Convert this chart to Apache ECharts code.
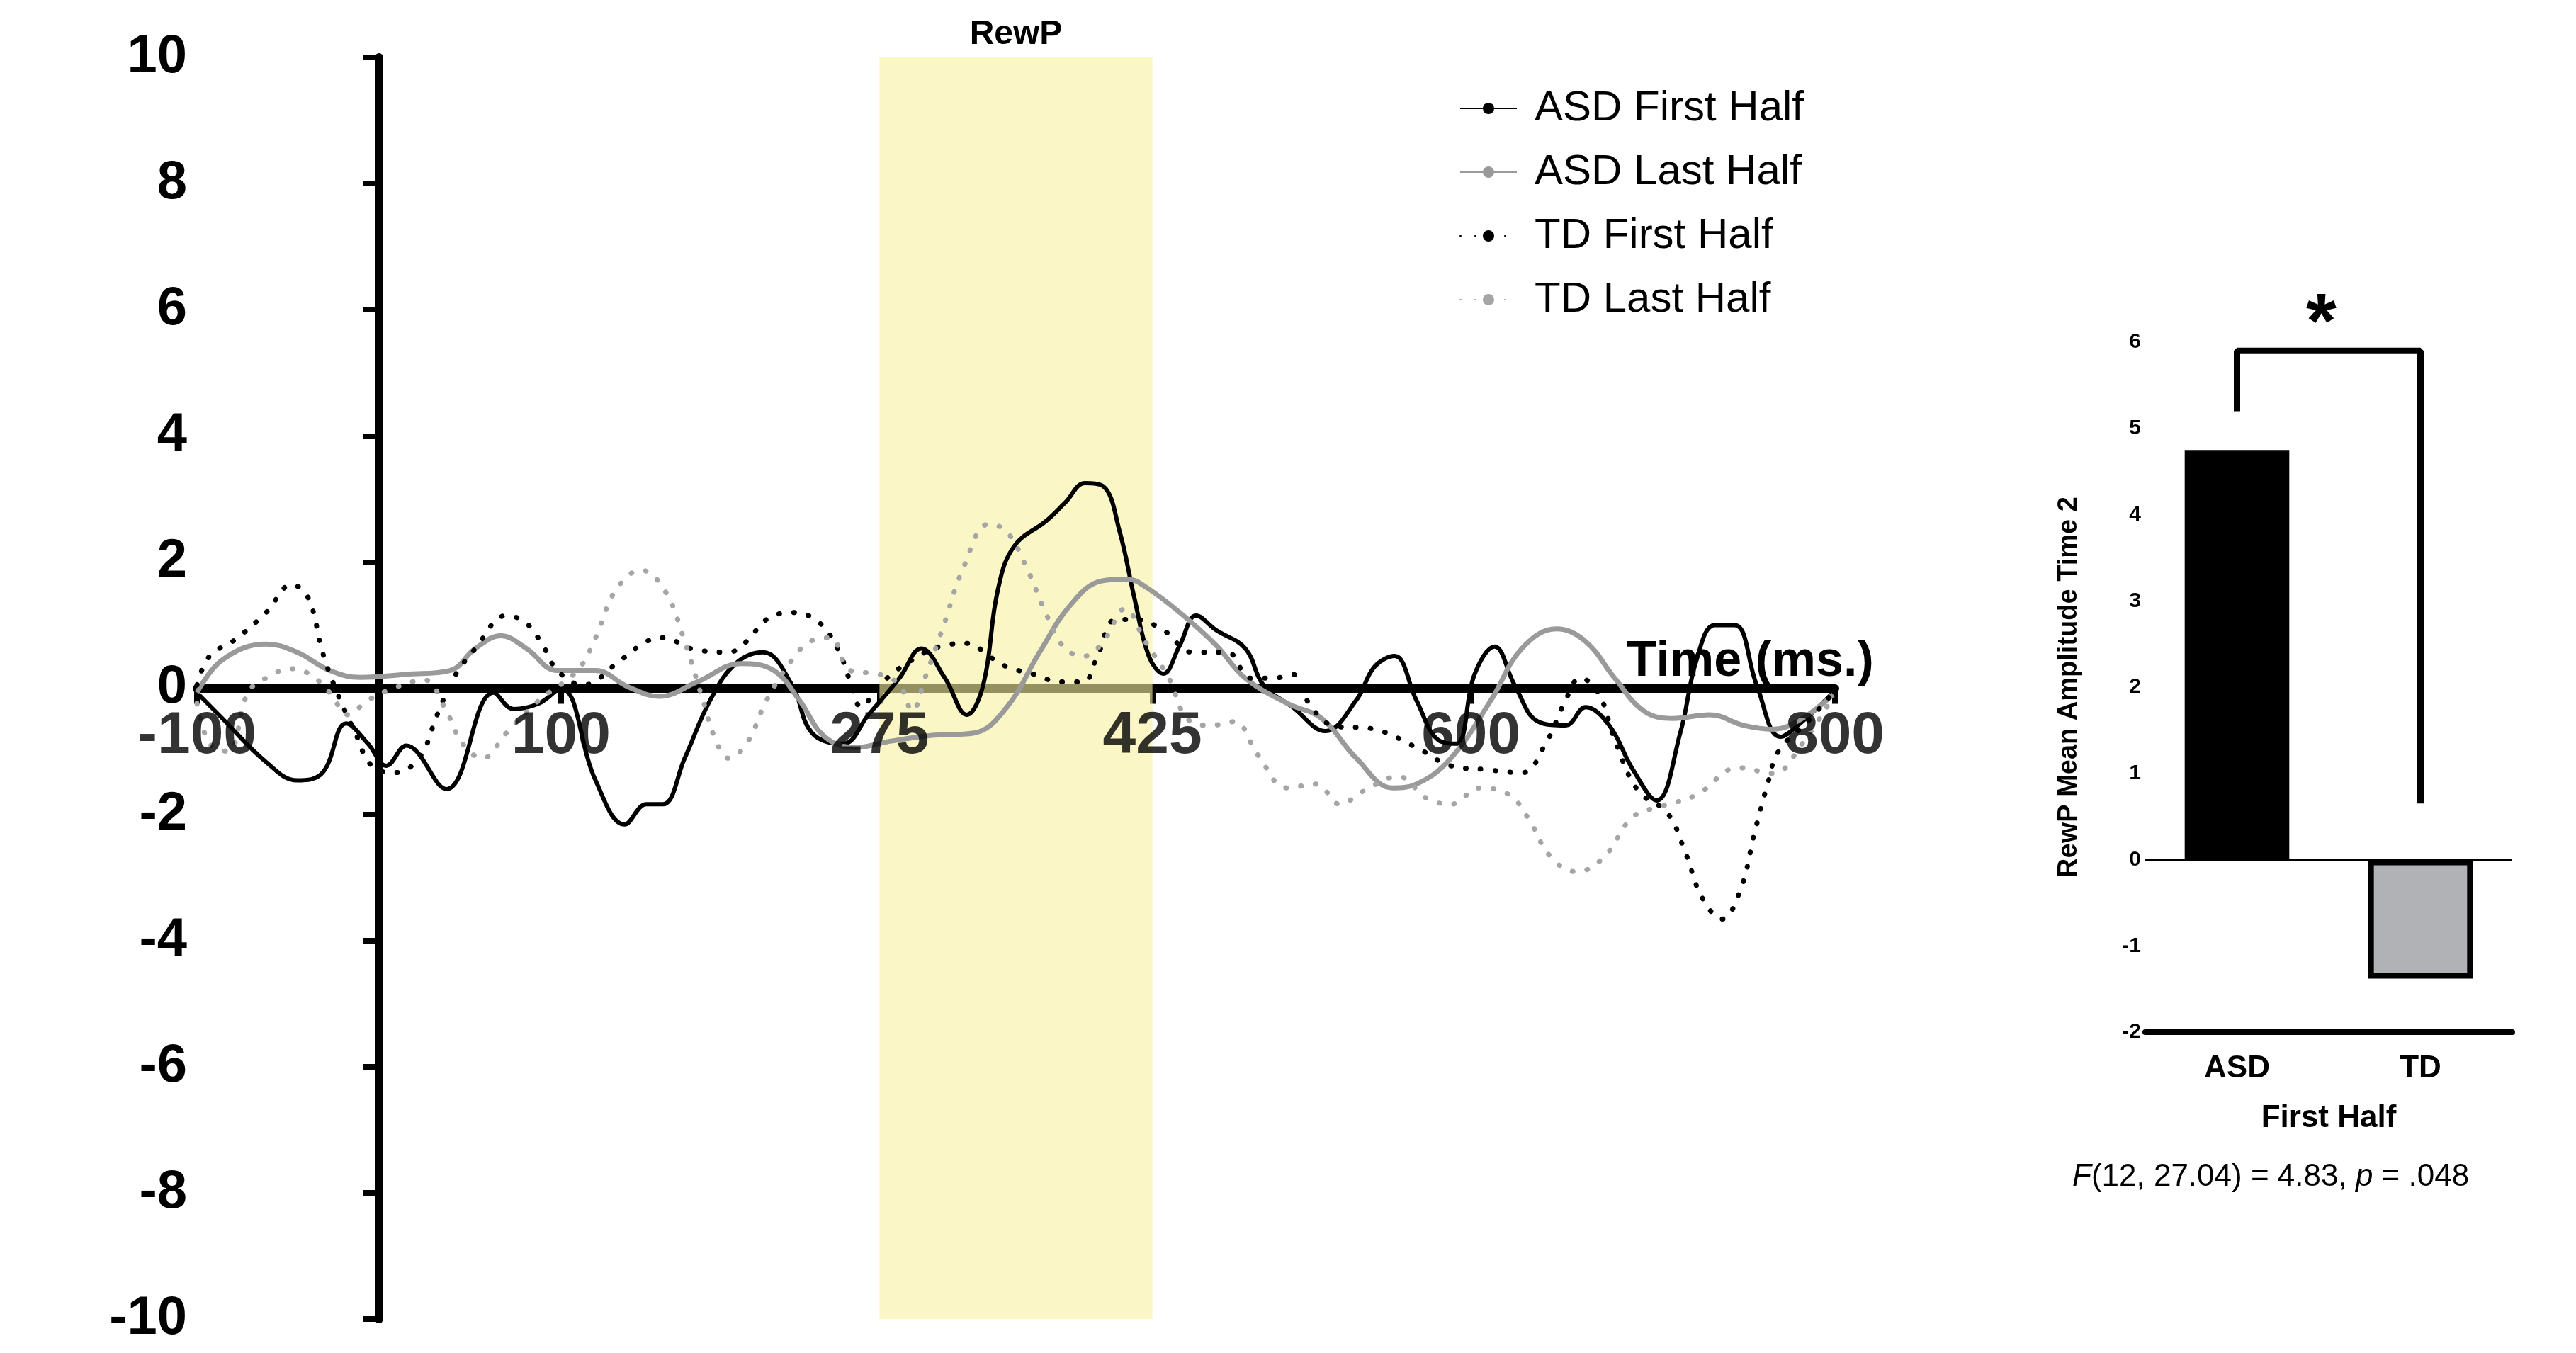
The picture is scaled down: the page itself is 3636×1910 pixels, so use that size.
<!DOCTYPE html>
<html>
<head>
<meta charset="utf-8">
<script src="https://cdn.jsdelivr.net/npm/echarts@6/dist/echarts.min.js"></script>
<style>html,body{margin:0;padding:0;background:#fff}#main{width:3636px;height:1910px}</style>
</head>
<body>
<div id="main"></div>
<script>
// 波形数据 (ms, uV)
var asdFirstT = [-100,-86,-62,-45,-31,-18,-6,4,15,37,63,74,88,100,119,135,147,156,168,182,196,211,227,238,255,269,286,298,311,323,332,340,349,367,377,388,398,407,415,423,431,440,449,460,476,486,502,520,537,547,558,570,582,592,602,613,624,637,652,663,676,689,702,715,724,734,745,757,770,782,799];
var asdFirstV = [-0.07,-0.48,-1.17,-1.46,-1.34,-0.56,-0.88,-1.23,-0.91,-1.6,-0.07,-0.33,-0.24,0,-1.46,-2.16,-1.84,-1.84,-1.11,-0.19,0.39,0.57,0.05,-0.71,-0.88,-0.42,0.16,0.63,0.16,-0.42,0.05,1.55,2.25,2.66,2.94,3.25,3.2,2.48,1.44,0.51,0.23,0.68,1.15,0.92,0.63,0.05,-0.3,-0.68,-0.19,0.34,0.51,-0.19,-0.82,-0.88,0.22,0.66,0.05,-0.53,-0.59,-0.3,-0.59,-1.29,-1.78,-0.71,0.45,1.0,1.0,0.05,-0.77,-0.53,-0.07];
var asdLastT = [-100,-86,-62,-45,-27,-10,15,39,53,67,81,98,119,137,154,175,199,217,231,245,262,279,303,327,345,363,380,397,411,421,440,460,476,499,518,537,557,570,589,611,628,647,663,679,695,711,731,750,766,782,799];
var asdLastV = [-0.07,0.45,0.7,0.57,0.28,0.17,0.22,0.28,0.63,0.83,0.63,0.28,0.28,0.02,-0.13,0.1,0.39,0.28,-0.19,-0.77,-0.94,-0.85,-0.75,-0.71,-0.3,0.57,1.32,1.7,1.73,1.61,1.2,0.68,0.16,-0.24,-0.48,-1.11,-1.58,-1.52,-1.11,-0.19,0.63,0.94,0.74,0.16,-0.36,-0.48,-0.42,-0.59,-0.65,-0.48,-0.1];
var tdFirstT = [-100,-93,-79,-62,-48,-39,-31,-24,-13,-4,8,22,32,41,53,70,81,91,98,112,133,147,157,171,192,202,213,227,241,252,259,265,275,293,311,324,335,345,360,374,387,394,405,415,431,447,466,479,492,502,511,524,547,570,589,608,628,641,652,660,670,679,692,708,718,727,738,748,756,763,769,785,799];
var tdFirstV = [0.05,0.51,0.77,1.2,1.64,1.44,0.57,0,-0.71,-1.23,-1.34,-1.11,-0.42,0.16,0.63,1.15,1.03,0.63,0.28,0.05,0.45,0.74,0.8,0.63,0.57,0.74,1.09,1.2,1.06,0.63,0.1,-0.3,0.05,0.45,0.68,0.71,0.51,0.34,0.22,0.1,0.1,0.45,1.09,1.09,0.92,0.57,0.57,0.16,0.16,0.22,-0.24,-0.59,-0.65,-0.94,-1.23,-1.29,-1.34,-0.88,-0.19,0.16,-0.07,-0.82,-1.63,-1.98,-2.62,-3.32,-3.66,-3.2,-2.27,-1.52,-1.0,-0.53,-0.07];
var tdLastT = [-100,-93,-83,-72,-62,-48,-38,-27,-17,-6,8,25,36,46,57,70,88,109,119,130,144,157,168,178,185,192,202,213,227,237,248,259,275,286,293,300,310,321,335,345,356,367,377,388,398,410,421,434,444,457,470,483,499,515,528,541,560,576,589,605,621,631,644,658,673,689,705,724,747,766,782,799];
var tdLastV = [-0.24,-0.88,-1.0,-0.07,0.16,0.31,0.22,-0.07,-0.42,-0.19,0,0.13,-0.3,-0.88,-1.11,-0.71,-0.19,0.28,0.8,1.55,1.87,1.55,0.74,-0.19,-0.82,-1.11,-0.88,-0.19,0.45,0.74,0.8,0.28,0.22,0.05,-0.36,0.16,0.97,1.9,2.6,2.48,1.9,1.15,0.63,0.51,0.74,1.26,0.74,0.16,-0.48,-0.59,-0.53,-1.06,-1.58,-1.52,-1.84,-1.63,-1.4,-1.75,-1.84,-1.58,-1.69,-2.04,-2.68,-2.91,-2.68,-2.04,-1.87,-1.69,-1.26,-1.35,-0.88,-0.13];

var seriesNames = ['ASD First Half','ASD Last Half','TD First Half','TD Last Half'];
var xTicks = [-100,100,275,425,600,800];
var rewpWindow = [275,425];

// 柱状图数据
var barCats = ['ASD','TD'];
var barVals = [4.75,-1.38];
var bracketPts = [['ASD',5.2],['ASD',5.9],['TD',5.9],['TD',0.65]];

function pairs(t,v){ return t.map(function(x,i){ return [x,v[i]]; }); }

var font = 'Liberation Sans, sans-serif';
var myChart = echarts.init(document.getElementById('main'));

var option = {
    animation:false,
    textStyle:{fontFamily:font},
    grid:[
        {left:278,right:1046,top:81,bottom:48,outerBoundsMode:'none',containLabel:false},
        {left:3028,right:90,top:483,bottom:453,outerBoundsMode:'none',containLabel:false}
    ],
    legend:{
        data:seriesNames, orient:'vertical', left:2055, top:118,
        itemWidth:80, itemHeight:20, itemGap:30,
        textStyle:{fontSize:60,color:'#000',fontFamily:font,padding:[0,0,0,20]}
    },
    xAxis:[{
        type:'value', gridIndex:0, min:-100, max:800,
        splitLine:{show:false},
        axisLine:{lineStyle:{color:'#000',width:12}},
        axisTick:{customValues:xTicks,length:22,lineStyle:{color:'#000',width:8}},
        axisLabel:{show:false}
    },{
        type:'category', gridIndex:1, data:barCats,
        axisLine:{onZero:false,lineStyle:{color:'#000',width:8}},
        axisTick:{alignWithLabel:true,length:22,lineStyle:{color:'#000',width:8}},
        axisLabel:{fontSize:44,fontWeight:'bold',color:'#000',margin:30,fontFamily:font},
        name:'First Half', nameLocation:'middle', nameGap:100,
        nameTextStyle:{fontSize:44,fontWeight:'bold',color:'#000',fontFamily:font}
    }],
    yAxis:[{
        type:'value', gridIndex:0, min:-10, max:10, interval:2,
        splitLine:{show:false},
        axisLine:{lineStyle:{color:'#000',width:12}},
        axisTick:{length:22,lineStyle:{color:'#000',width:8}},
        axisLabel:{fontSize:76,fontWeight:'bold',color:'#000',margin:14},
        name:'Voltage (uV)', nameLocation:'middle', nameGap:482,
        nameTextStyle:{fontSize:66,fontWeight:'bold',color:'#000',fontFamily:font}
    },{
        type:'value', gridIndex:1, min:-2, max:6, interval:1,
        splitLine:{show:false},
        axisLine:{onZero:false,lineStyle:{color:'#000',width:8}},
        axisTick:{length:16,lineStyle:{color:'#000',width:6}},
        axisLabel:{fontSize:30,fontWeight:'bold',color:'#000',margin:6,fontFamily:font},
        name:'RewP Mean Amplitude Time 2', nameLocation:'middle', nameGap:88,
        nameTextStyle:{fontSize:38,fontWeight:'bold',color:'#000',fontFamily:font}
    }],
    series:[
        {name:seriesNames[0],type:'line',xAxisIndex:0,yAxisIndex:0,data:pairs(asdFirstT,asdFirstV),
         smooth:0.4,symbol:'none',lineStyle:{color:'#000',width:6},itemStyle:{color:'#000'},
         markArea:{silent:true,itemStyle:{color:'rgba(247,240,160,0.6)'},
            label:{show:true,position:'top',distance:8,fontSize:48,fontWeight:'bold',color:'#000',fontFamily:font},
            data:[[{name:'RewP',xAxis:rewpWindow[0]},{xAxis:rewpWindow[1]}]]}},
        {name:seriesNames[1],type:'line',xAxisIndex:0,yAxisIndex:0,data:pairs(asdLastT,asdLastV),
         smooth:0.4,symbol:'none',lineStyle:{color:'#9a9a9a',width:7},itemStyle:{color:'#9a9a9a'}},
        {name:seriesNames[2],type:'line',xAxisIndex:0,yAxisIndex:0,data:pairs(tdFirstT,tdFirstV),
         smooth:0.4,symbol:'none',lineStyle:{color:'#000',width:7,type:[1,20],cap:'round'},itemStyle:{color:'#000'}},
        {name:seriesNames[3],type:'line',xAxisIndex:0,yAxisIndex:0,data:pairs(tdLastT,tdLastV),
         smooth:0.4,symbol:'none',lineStyle:{color:'#a5a5a5',width:7,type:[1,20],cap:'round'},itemStyle:{color:'#a5a5a5'}},
        // x 轴刻度标签放在 y=0 处
        {type:'scatter',xAxisIndex:0,yAxisIndex:0,silent:true,symbolSize:0,z:5,
         data:xTicks.map(function(t){ return [t,0]; }),
         label:{show:true,position:'bottom',distance:26,fontSize:84,fontWeight:'bold',color:'#000',
                formatter:function(p){ return String(p.value[0]); }}},
        {type:'bar',xAxisIndex:1,yAxisIndex:1,barWidth:'57%',
         data:[{value:barVals[0],itemStyle:{color:'#000'}},
               {value:barVals[1],itemStyle:{color:'#b1b2b5',borderColor:'#000',borderWidth:8}}],
         markLine:{silent:true,symbol:'none',label:{show:false},lineStyle:{color:'#000',width:2,type:'solid'},data:[{yAxis:0}]}},
        {type:'line',xAxisIndex:1,yAxisIndex:1,data:bracketPts,symbol:'none',
         lineStyle:{color:'#000',width:9},itemStyle:{color:'#000'}}
    ],
    graphic:[
        {type:'text',left:2296,top:900,style:{text:'Time (ms.)',fontSize:70,fontWeight:'bold',fill:'#000',fontFamily:font}},
        {type:'text',left:3255,top:405,style:{text:'*',fontSize:110,fontWeight:'bold',fill:'#000',fontFamily:font}},
        {type:'text',left:2925,top:1640,style:{
            rich:{i:{fontStyle:'italic',fontSize:44,fill:'#000',fontFamily:font},
                  n:{fontSize:44,fill:'#000',fontFamily:font}},
            text:'{i|F}{n|(12, 27.04) = 4.83, }{i|p}{n| = .048}'}}
    ]
};
myChart.setOption(option);
</script>
</body>
</html>
